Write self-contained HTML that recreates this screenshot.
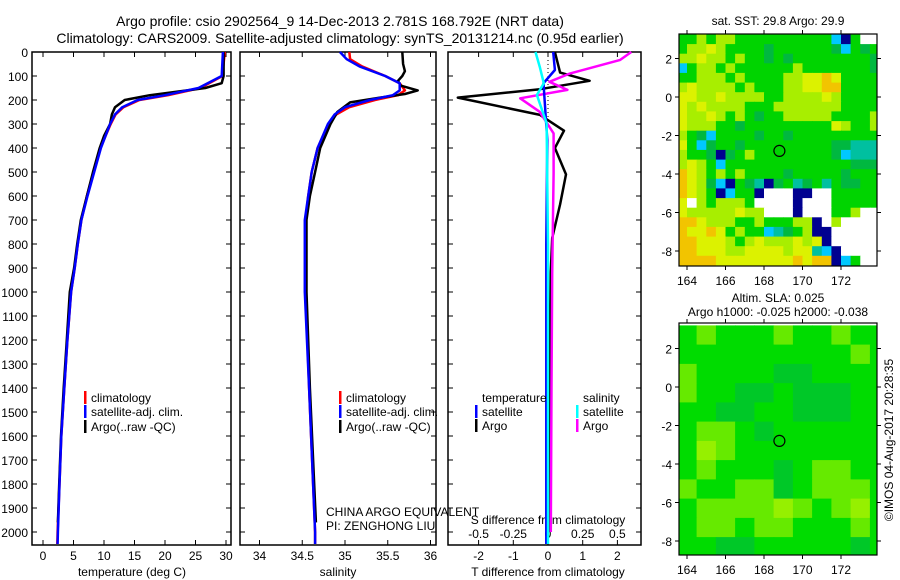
<!DOCTYPE html>
<html><head><meta charset="utf-8"><style>
html,body{margin:0;padding:0;background:#fff;}
svg{display:block;font-family:"Liberation Sans",sans-serif;}
</style></head><body>
<svg id="fig" width="900" height="580" viewBox="0 0 900 580" xmlns="http://www.w3.org/2000/svg">
<text x="340" y="26" font-size="14" text-anchor="middle">Argo profile: csio 2902564_9 14-Dec-2013 2.781S 168.792E (NRT data)</text>
<text x="340" y="43" font-size="14" text-anchor="middle">Climatology: CARS2009. Satellite-adjusted climatology: synTS_20131214.nc (0.95d earlier)</text>
<text x="778" y="25" font-size="12" text-anchor="middle">sat. SST: 29.8 Argo: 29.9</text>
<text x="778" y="302" font-size="12" text-anchor="middle">Altim. SLA: 0.025</text>
<text x="778" y="316" font-size="12" text-anchor="middle">Argo h1000: -0.025 h2000: -0.038</text>
<text x="0" y="0" font-size="12" text-anchor="middle" transform="translate(893,440) rotate(-90)">©IMOS 04-Aug-2017 20:28:35</text>
<g id="g"></g>
</svg>
<script>
// ---- data ----
const tDepth = [0,100,130,150,180,200,230,260,300,350,400,500,600,700,800,900,1000,1200,1400,1600,1800,1960];
const tArgo  = [29.6,29.6,29.3,26.6,17.5,13.4,11.8,11.3,11.0,10.0,9.3,8.2,7.2,6.2,5.6,5.1,4.4,3.9,3.4,2.95,2.65,2.45];
const cDepth = [0,100,150,180,200,230,260,300,400,500,600,700,800,900,1000,1200,1400,1600,1800,2000,2050];
const tSat   = [29.5,29.3,25.5,20.0,15.5,13.0,11.8,11.0,9.5,8.4,7.3,6.3,5.7,5.2,4.6,4.0,3.5,3.0,2.7,2.45,2.4];
const tClim  = [29.8,29.4,25.8,20.5,15.8,13.2,11.9,11.1,9.4,8.3,7.2,6.3,5.7,5.2,4.6,4.0,3.5,3.0,2.7,2.4,2.35];
const sDepthA = [0,50,80,100,120,140,160,175,190,210,250,300,400,500,600,700,1000,1400,1960];
const sArgo   = [35.67,35.68,35.70,35.67,35.62,35.65,35.85,35.70,35.41,35.06,34.91,34.83,34.71,34.65,34.59,34.55,34.55,34.59,34.66];
const sDepthC = [0,30,60,100,130,160,180,200,230,260,300,400,500,600,700,1000,1400,2000,2050];
const sSat    = [34.94,35.02,35.17,35.47,35.64,35.64,35.56,35.29,35.00,34.88,34.80,34.68,34.61,34.57,34.53,34.53,34.58,34.65,34.65];
const sClim   = [35.05,35.06,35.20,35.47,35.64,35.70,35.62,35.35,35.05,34.90,34.81,34.68,34.61,34.57,34.54,34.54,34.58,34.65,34.65];
const dDepthT = [0,86,120,155,190,262,328,400,510,635,775,914,1200,1600,2000];
const dTArgo  = [0.2,0.35,1.2,-0.23,-2.6,-0.23,0.46,0.2,0.52,0.35,0.12,0.08,0.05,0.04,0.04];
const dDepthS = [0,33,89,124,158,193,249,339,506,922,1400,2000];
const dSArgo  = [0.6,0.52,0.16,0.01,0.14,-0.2,-0.06,0.04,0.04,0.03,0.025,0.02];
const dDepthB = [0,75,130,193,367,800,1400,2050];
const dTSat   = [0.15,0.2,-0.13,-0.1,-0.02,-0.05,-0.05,-0.05];
const dDepthC = [0,61,130,179,297,800,2050];
const dSSat   = [-0.09,-0.06,-0.03,-0.08,-0.01,0.0,0.0];
const depthTicks = [0,100,200,300,400,500,600,700,800,900,1000,1100,1200,1300,1400,1500,1600,1700,1800,1900,2000];
const tempTicks = [0,5,10,15,20,25,30];
const salTicks = [34,34.5,35,35.5,36];
const dTTicks = [-2,-1,0,1,2];
const dSTicks = [-0.5,-0.25,0,0.25,0.5];
const dSTickLabels = ["-0.5","-0.25","0","0.25","0.5"];
const latTicks = [2,0,-2,-4,-6,-8];
const lonTicks = [164,166,168,170,172];
const argoLon = 168.8, argoLat = -2.8;
const sstRows = [
"GGLGLLGGGGGGGGGGCNGWWW","GLLYLGGGGDGGGGGGDCGDGG","LLYLLGLGGDGDGGGGGGGGDG","CGLLGLGGGGGGLGGGGGGGDG",
"GGLLLGLGGGGLLYYOYGGGGG","LYLLLLGLGGGLLYYOOGGGGG","YYLLYLLLLGGLLLLYLGGGGG","YLYLLLLGGGLLLLLLLGGGGG",
"YLLYLGLGDGGLLLLLGGGGLG","YLLLGGDGGGGGGGGGYLGGLG","LGDCGGGGDGGDGGGGGGGGGG","YGCDGGDGGGGGGGGGDDTTTD",
"LGGDNDGLGGGGGGGGDCTTTW","LYLGCGGGGGGGGGGGGGDDDG","OYLGLGLGGGGDGGGGGDGGGN","OYLDCNGDTNDGTDGTGDDGGG",
"OYLGNCGGNWWWNNWWGGGGGG","YWLGLLLGWWWWNWWWGGGGGW","YLLLLLYLLWWWNWWWGGLWWW","OOYLLLGGLGGGLLNWLWWWWW",
"OYYOYGLGGCTDGLNNWWWWWW","OOYYYLGLYLLLYLYNWWWWWW","OOYYYLLYYYYLYYTCNWWWWW","OOOOYYYYYYYYOYOONCGWWW"];
const slaRows = ["GLGGGLGGLGG","GGGGGGGGGLG","LGGGGDDGGGG","LGGDDGDDDGG","GGDDGGDDDGG","GLLGDGGGGGG",
"GYLGGGGGGGG","GLGGGDGLLGG","LGGLLDGLLLG","GLLLLYLGLYG","GLLGLLGGGLG","GGDDGGGGGDG"];
const sstColors = {Y:"#dcf200",L:"#a8ee00",G:"#00d400",D:"#00b840",T:"#00c0a0",C:"#00c8ff",N:"#000090",O:"#f2c400",W:"#ffffff"};
const slaColors = {G:"#00dc00",D:"#00c828",L:"#66ea00",Y:"#96f000"};

// ---- drawing ----
const NS="http://www.w3.org/2000/svg", G=document.getElementById('g');
function mk(tag,attrs,parent){const e=document.createElementNS(NS,tag);for(const k in attrs)e.setAttribute(k,attrs[k]);(parent||G).appendChild(e);return e;}
const PT=52, pxPerM=0.24, PB=545;
const yD = d => PT + d*pxPerM;
const panels = [
 {l:32,r:231,x:v=>43+6.1*v,name:'temperature'},
 {l:240,r:436,x:v=>345+85.5*(v-35),name:'salinity'},
 {l:448,r:641,x:v=>548+34.7*v,name:'difference'}];
const xS = v => 548+138.8*v;
panels.forEach((p,i)=>{
  const fr=mk('rect',{x:p.l,y:PT,width:p.r-p.l,height:PB-PT,fill:'none',stroke:'#000','stroke-width':1.5});
  
  
  depthTicks.forEach(d=>{
    const y=yD(d);
    mk('line',{x1:p.l,x2:p.l+5,y1:y,y2:y,stroke:'#000'});
    mk('line',{x1:p.r-5,x2:p.r,y1:y,y2:y,stroke:'#000'});
    if(i===0){const t=mk('text',{x:28,y:y+5,'font-size':12,'text-anchor':'end'});t.textContent=d;
      
      }
  });
});
function xticks(p,ticks,labels,name){
  ticks.forEach((v,k)=>{const x=p.x(v);
    mk('line',{x1:x,x2:x,y1:PT,y2:PT+5,stroke:'#000'});
    mk('line',{x1:x,x2:x,y1:PB-5,y2:PB,stroke:'#000'});
    const t=mk('text',{x:x,y:560,'font-size':12,'text-anchor':'middle'});t.textContent=labels?labels[k]:v;
    
    });
}
xticks(panels[0],tempTicks,null,'temperature');
xticks(panels[1],salTicks,null,'salinity');
xticks(panels[2],dTTicks,null,'t-difference');
dSTicks.forEach((v,k)=>{const t=mk('text',{x:xS(v),y:538,'font-size':12,'text-anchor':'middle'});t.textContent=dSTickLabels[k];
  
  });
[[132,'temperature (deg C)','temperature-axis-title'],[338,'salinity','salinity-axis-title'],[548,'T difference from climatology','t-difference-axis-title']].forEach(a=>{
  const t=mk('text',{x:a[0],y:576,'font-size':12,'text-anchor':'middle'});t.textContent=a[1];
  
  });
const st=mk('text',{x:548,y:524,'font-size':12,'text-anchor':'middle'});st.textContent='S difference from climatology';


mk('line',{x1:548,x2:548,y1:PT,y2:120,stroke:'#000','stroke-dasharray':'1,3'});
function line(depths,vals,xf,color,name){
  const pts=depths.map((d,k)=>xf(vals[k]).toFixed(1)+','+yD(d).toFixed(1)).join(' ');
  const e=mk('polyline',{points:pts,fill:'none',stroke:color,'stroke-width':2.5,'stroke-linejoin':'round'});
  
  
}
line(cDepth,tClim,panels[0].x,'#f00','temperature-climatology-line');
line(tDepth,tArgo,panels[0].x,'#000','temperature-argo-line');
line(cDepth,tSat,panels[0].x,'#00f','temperature-satellite-line');
line(sDepthC,sClim,panels[1].x,'#f00','salinity-climatology-line');
line(sDepthA,sArgo,panels[1].x,'#000','salinity-argo-line');
line(sDepthC,sSat,panels[1].x,'#00f','salinity-satellite-line');
line(dDepthT,dTArgo,panels[2].x,'#000','t-difference-argo-line');
line(dDepthS,dSArgo,xS,'#f0f','s-difference-argo-line');
line(dDepthB,dTSat,panels[2].x,'#00f','t-difference-satellite-line');
line(dDepthC,dSSat,xS,'#0ff','s-difference-satellite-line');
function leg(x,y,color,label,name){
  mk('rect',{x:x,y:y-11,width:2.5,height:13,fill:color});
  const t=mk('text',{x:x+7,y:y,'font-size':12});t.textContent=label;
  
  
}
[[84,'temperature'],[339,'salinity']].forEach(a=>{
  leg(a[0],402,'#f00','climatology',a[1]+'-legend-climatology');
  leg(a[0],416,'#00f','satellite-adj. clim.',a[1]+'-legend-satellite');
  leg(a[0],431,'#000','Argo(..raw -QC)',a[1]+'-legend-argo');
});
const lt=mk('text',{x:482,y:402,'font-size':12});lt.textContent='temperature';


const ls=mk('text',{x:583,y:402,'font-size':12});ls.textContent='salinity';


leg(475,416,'#00f','satellite','difference-legend-t-satellite');
leg(475,430,'#000','Argo','difference-legend-t-argo');
leg(576,416,'#0ff','satellite','difference-legend-s-satellite');
leg(576,430,'#f0f','Argo','difference-legend-s-argo');
const t1=mk('text',{x:326,y:516,'font-size':12});t1.textContent='CHINA ARGO EQUIVALENT';


const t2=mk('text',{x:326,y:530,'font-size':12});t2.textContent='PI: ZENGHONG LIU';



// maps
function map(mtop,mbot,lat0y,rows,colors,cell,lonStart,latStart,name){
  const L=679,R=877,ppd=19.25;
  const lx=v=>687+(v-164)*ppd, ly=v=>lat0y-v*ppd;
  const cp='clip-'+name;
  const defs=mk('defs',{});const c=mk('clipPath',{id:cp},defs);mk('rect',{x:L,y:mtop,width:R-L,height:mbot-mtop},c);
  const g=mk('g',{'clip-path':'url(#'+cp+')'});
  
  
  rows.forEach((row,r)=>{[...row].forEach((ch,k)=>{
    const x0=lx(lonStart+k*cell),y0=ly(latStart-r*cell);
    mk('rect',{x:x0.toFixed(1),y:y0.toFixed(1),width:(cell*ppd+0.6).toFixed(1),height:(cell*ppd+0.6).toFixed(1),fill:colors[ch]},g);
  });});
  mk('circle',{cx:lx(argoLon),cy:ly(argoLat),r:5.5,fill:'none',stroke:'#000','stroke-width':1.2});
  const fr=mk('rect',{x:L,y:mtop,width:R-L,height:mbot-mtop,fill:'none',stroke:'#000','stroke-width':1.2});
  
  
  latTicks.forEach(v=>{const y=ly(v);
    mk('line',{x1:L-4,x2:L,y1:y,y2:y,stroke:'#000'});mk('line',{x1:R,x2:R+4,y1:y,y2:y,stroke:'#000'});
    const t=mk('text',{x:L-7,y:y+5,'font-size':12,'text-anchor':'end'});t.textContent=v;
    
    });
  lonTicks.forEach(v=>{const x=lx(v);
    mk('line',{x1:x,x2:x,y1:mtop-4,y2:mtop,stroke:'#000'});mk('line',{x1:x,x2:x,y1:mbot,y2:mbot+4,stroke:'#000'});
    const t=mk('text',{x:x,y:mbot+19,'font-size':12,'text-anchor':'middle'});t.textContent=v;
    
    });
}
map(34,266,97,sstRows,sstColors,0.5,163.5,3.25,'sst-map');
map(323,555,387,slaRows,slaColors,1,163.5,3.2,'sla-map');
</script>
</body></html>
